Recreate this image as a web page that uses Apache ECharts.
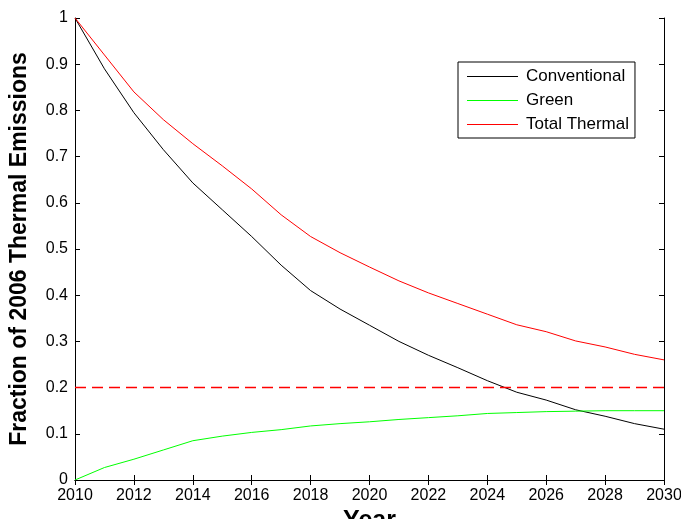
<!DOCTYPE html>
<html>
<head>
<meta charset="utf-8">
<script src="https://cdn.jsdelivr.net/npm/echarts@6/dist/echarts.min.js"></script>
<style>
  html, body { margin: 0; padding: 0; background: #fff; }
  #chart { width: 681px; height: 519px; }
</style>
</head>
<body>
<div id="chart"></div>
<script>
const years = [2010, 2011, 2012, 2013, 2014, 2015, 2016, 2017, 2018, 2019, 2020,
  2021, 2022, 2023, 2024, 2025, 2026, 2027, 2028, 2029, 2030]
const conventional = [1.0, 0.89, 0.795, 0.715, 0.643, 0.585, 0.527, 0.465, 0.41, 0.37, 0.335,
  0.30, 0.27, 0.243, 0.215, 0.19, 0.173, 0.152, 0.138, 0.122, 0.11]
const green = [0, 0.027, 0.045, 0.065, 0.085, 0.095, 0.103, 0.109, 0.117, 0.122, 0.126,
  0.131, 0.135, 0.139, 0.144, 0.146, 0.148, 0.149, 0.15, 0.15, 0.15]
const totalThermal = [1.0, 0.92, 0.84, 0.78, 0.728, 0.68, 0.63, 0.574, 0.527, 0.492, 0.461,
  0.431, 0.405, 0.382, 0.359, 0.336, 0.321, 0.301, 0.288, 0.272, 0.26]
const target = 0.2
const yTicks = ['0', '0.1', '0.2', '0.3', '0.4', '0.5', '0.6', '0.7', '0.8', '0.9', '1']

const font = 'Liberation Sans, Arial, sans-serif'
const pairs = (ys) => years.map((x, i) => [x, ys[i]])

const chart = echarts.init(document.getElementById('chart'))
const boxAxis = {
  axisLine: { show: true, lineStyle: { color: '#000', width: 1 } },
  axisTick: { show: true, inside: true, length: 5, lineStyle: { color: '#000' } },
  splitLine: { show: false }
}
chart.setOption({
  animation: false,
  backgroundColor: '#fff',
  grid: { left: 75, right: 17, top: 18, bottom: 39, outerBoundsMode: 'none', containLabel: false },
  legend: {
    orient: 'vertical',
    left: 458, top: 62,
    padding: [6, 6, 5, 9],
    backgroundColor: '#fff',
    borderColor: '#000', borderWidth: 1, borderRadius: 0,
    icon: 'rect',
    itemWidth: 51, itemHeight: 1.2, itemGap: 7,
    textStyle: { fontFamily: font, fontSize: 17, color: '#000', padding: [0, 0, 0, 3] },
    data: ['Conventional', 'Green', 'Total Thermal']
  },
  xAxis: [{
    type: 'value', min: 2010, max: 2030, interval: 2,
    name: 'Year', nameLocation: 'middle', nameGap: 24,
    nameTextStyle: { fontFamily: font, fontSize: 25, fontWeight: 'bold', color: '#000', verticalAlign: 'top' },
    axisLabel: { fontFamily: font, fontSize: 16, color: '#000', margin: 8, formatter: (v) => String(v) },
    ...boxAxis
  }, {
    type: 'value', position: 'top', min: 2010, max: 2030, interval: 2,
    axisLabel: { show: false },
    ...boxAxis
  }],
  yAxis: [{
    type: 'value', min: 0, max: 1, interval: 0.1,
    name: 'Fraction of 2006 Thermal Emissions', nameLocation: 'middle', nameGap: 44,
    nameTextStyle: { fontFamily: font, fontSize: 23, fontWeight: 'bold', color: '#000' },
    axisLabel: { fontFamily: font, fontSize: 16, color: '#000', margin: 7,
      formatter: (v) => yTicks[Math.round(v * 10)] },
    ...boxAxis
  }, {
    type: 'value', position: 'right', min: 0, max: 1, interval: 0.1,
    axisLabel: { show: false },
    ...boxAxis
  }],
  series: [
    { name: 'Conventional', type: 'line', data: pairs(conventional), showSymbol: false, symbol: 'none',
      lineStyle: { color: '#000', width: 1 }, itemStyle: { color: '#000' } },
    { name: 'Green', type: 'line', data: pairs(green), showSymbol: false, symbol: 'none',
      lineStyle: { color: '#00ff00', width: 1 }, itemStyle: { color: '#00ff00' } },
    { name: 'Total Thermal', type: 'line', data: pairs(totalThermal), showSymbol: false, symbol: 'none',
      lineStyle: { color: '#ff0000', width: 1 }, itemStyle: { color: '#ff0000' } },
    { name: 'Target', type: 'line', data: [[years[0], target], [years[years.length - 1], target]],
      showSymbol: false, symbol: 'none',
      lineStyle: { color: '#ff0000', width: 1.5, type: [11, 6] } }
  ]
})
</script>
</body>
</html>
